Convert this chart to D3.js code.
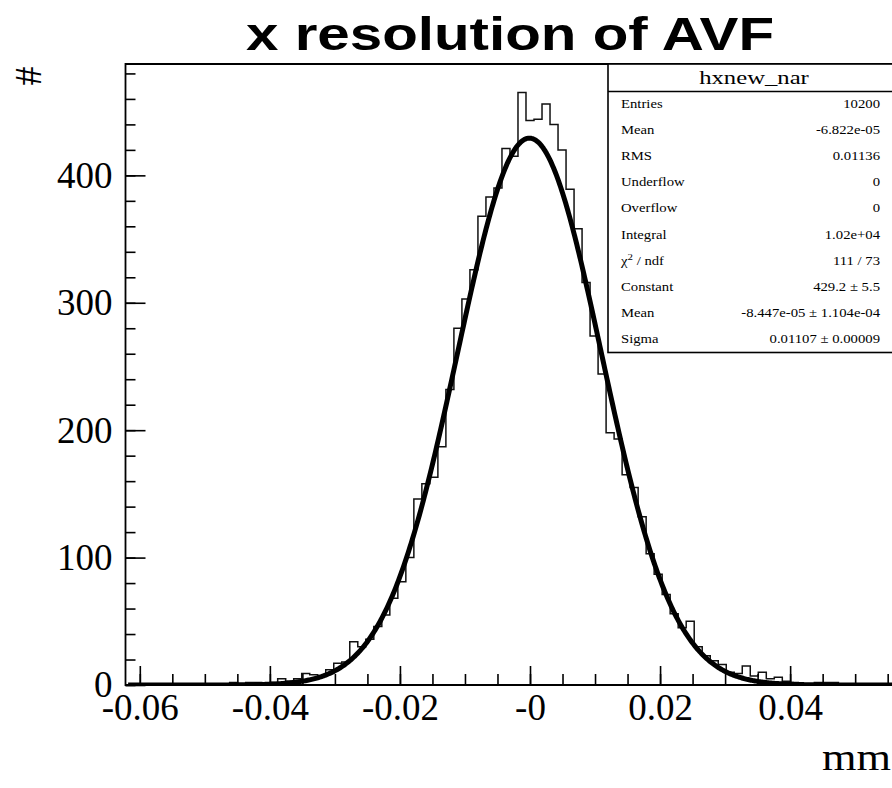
<!DOCTYPE html>
<html><head><meta charset="utf-8">
<script src="https://cdn.jsdelivr.net/npm/d3@7"></script>
<style>
html,body{margin:0;padding:0;background:#fff;}
svg{display:block;}
text{font-family:"Liberation Serif","Times New Roman",serif;fill:#000;}
</style></head>
<body>
<svg id="c" width="892" height="788"></svg>
<script>
// ---------------- data ----------------
const histLow = -0.0622, histHigh = 0.0622;           // histogram range
const binCounts = [
  0,0,0,0,0,0,0,0,0,0,                                 // j=-50..-41
  1,0,1,2,1,2,2,1,2,5,                                 // j=-40..-31
  3,5,9,8,7,12,17,18,34,30,                            // j=-30..-21
  36,46,55,68,81,100,146,158,163,187,                  // j=-20..-11
  232,280,303,326,368,383,390,421,415,465,             // j=-10..-1
  443,444,456,440,420,389,358,316,274,244,             // j=0..9
  198,193,165,155,132,103,87,71,56,45,                 // j=10..19
  50,30,23,19,16,10,9,15,7,10,                         // j=20..29
  5,6,3,2,1,1,2,2,2,1,                                 // j=30..39
  0,0,0,0,0,0,0,0,0,0,0                                // j=40..50
];
const fitConstant = 429.2, fitMean = -8.447e-05, fitSigma = 0.01107;
const fitLow = -0.0618, fitHigh = 0.0622;
const xMajorTicks = [-0.06, -0.04, -0.02, 0, 0.02, 0.04];
const xTickLabels = ["-0.06", "-0.04", "-0.02", "-0", "0.02", "0.04"];
const xMinorTicks = d3.range(-0.06, 0.0601, 0.005);
const yMajorTicks = [0, 100, 200, 300, 400];
const yMinorTicks = d3.range(0, 481, 20);
const yMax = 487.4;
const titleText = "x resolution of AVF";
const xTitle = "mm", yTitle = "#";
const statsName = "hxnew_nar";
const statsLabels = ["Entries","Mean","RMS","Underflow","Overflow","Integral","χ2 / ndf","Constant","Mean","Sigma"];
const statsValues = ["10200","-6.822e-05","0.01136","0","0","1.02e+04","111 / 73","429.2 ± 5.5","-8.447e-05 ± 1.104e-04","0.01107 ± 0.00009"];

// ---------------- layout ----------------
const svg = d3.select("#c");
const fL = 125.5, fR = 934.5, fT = 64, fB = 685;
const x = d3.scaleLinear().domain([histLow, histHigh]).range([fL, fR]);
const y = d3.scaleLinear().domain([0, yMax]).range([fB, fT]);
const nb = binCounts.length, bw = (histHigh - histLow) / nb;

svg.append("defs").append("clipPath").attr("id","frameClip")
  .append("rect").attr("x",fL).attr("y",fT-2).attr("width",fR-fL).attr("height",fB-fT+2);

// histogram outline
const pts = [];
binCounts.forEach((c,i)=>{
  const x0 = histLow + i*bw, x1 = x0 + bw;
  pts.push([x(x0), y(c)]); pts.push([x(x1), y(c)]);
});
svg.append("path").attr("clip-path","url(#frameClip)")
  .attr("d", d3.line()(pts)).attr("fill","none").attr("stroke","#111").attr("stroke-width",1.5);

// fit curve
const fitPts = d3.range(0, 801).map(i=>{
  const v = fitLow + (fitHigh-fitLow)*i/800;
  const z = (v - fitMean)/fitSigma;
  return [v, fitConstant*Math.exp(-0.5*z*z)];
});
svg.append("path").attr("clip-path","url(#frameClip)")
  .attr("d", d3.line().x(d=>x(d[0])).y(d=>y(d[1]))(fitPts))
  .attr("fill","none").attr("stroke","#000").attr("stroke-width",5).attr("stroke-linejoin","round");

// axes
const gx = svg.append("g").attr("transform",`translate(0,${fB})`);
gx.call(d3.axisBottom(x).tickValues(xMinorTicks).tickSize(-11).tickFormat(""));
const gxM = svg.append("g").attr("transform",`translate(0,${fB})`);
gxM.call(d3.axisBottom(x).tickValues(xMajorTicks).tickSize(-19).tickPadding(9)
  .tickFormat((d,i)=>xTickLabels[i]));
const gy = svg.append("g").attr("transform",`translate(${fL},0)`);
gy.call(d3.axisLeft(y).tickValues(yMinorTicks).tickSize(-10).tickFormat(""));
const gyM = svg.append("g").attr("transform",`translate(${fL},0)`);
gyM.call(d3.axisLeft(y).tickValues(yMajorTicks).tickSize(-20).tickPadding(13));
svg.selectAll(".domain").remove();
svg.selectAll(".tick line").attr("stroke","#000").attr("stroke-width",1.6);
svg.selectAll(".tick text").attr("font-family","Liberation Serif, serif").attr("font-size",37).attr("fill","#000");

// frame
svg.append("path").attr("d",`M${fR},${fT}H${fL}V${fB}H${fR}`)
  .attr("fill","none").attr("stroke","#000").attr("stroke-width",1.8);

// title
svg.append("text").attr("x",510).attr("y",50).attr("text-anchor","middle")
  .style("font-family","Liberation Sans, Arial, sans-serif").style("font-weight","bold")
  .attr("font-size",46).attr("textLength",528).attr("lengthAdjust","spacingAndGlyphs").text(titleText);

// axis titles
svg.append("text").attr("x",822).attr("y",770).attr("font-size",37)
  .attr("textLength",69).attr("lengthAdjust","spacingAndGlyphs").text(xTitle);
svg.append("g").attr("transform","translate(28,76) rotate(-90)")
  .append("text").attr("text-anchor","middle").attr("dy","0.33em").attr("font-size",38).text(yTitle);

// stats box
const sb = svg.append("g");
const sL = 608, sT = 64, sB = 352.5, sR = 960, sH = 91.5;
sb.append("rect").attr("x",sL).attr("y",sT).attr("width",sR-sL).attr("height",sB-sT)
  .attr("fill","#fff").attr("stroke","#000").attr("stroke-width",1.6);
sb.append("line").attr("x1",sL).attr("x2",sR).attr("y1",sH).attr("y2",sH).attr("stroke","#000").attr("stroke-width",1.4);
sb.append("text").attr("transform","translate(754,84) scale(1.3,1)").attr("text-anchor","middle")
  .attr("font-size",19).text(statsName);
const rowY = i => 103.5 + 26.2*i;
statsLabels.forEach((lab,i)=>{
  const t = sb.append("text").attr("transform",`translate(621,${rowY(i)}) scale(1.28,1)`)
    .attr("dy","0.35em").attr("font-size",11.5).attr("fill","#222");
  if (lab.startsWith("χ2")) {
    t.append("tspan").text("χ");
    t.append("tspan").attr("font-size",8.5).attr("baseline-shift","super").text("2");
    t.append("tspan").text(" / ndf");
  } else t.text(lab);
});
statsValues.forEach((val,i)=>{
  sb.append("text").attr("transform",`translate(880,${rowY(i)}) scale(1.28,1)`)
    .attr("dy","0.35em").attr("text-anchor","end").attr("font-size",11.5).attr("fill","#222").text(val);
});
</script>
</body></html>
